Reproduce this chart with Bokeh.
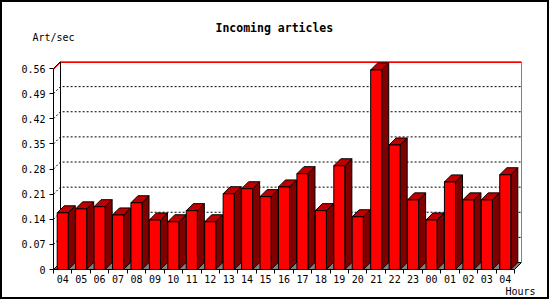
from bokeh.plotting import figure
from bokeh.models import FixedTicker, NumeralTickFormatter, Title, Range1d, LinearAxis
from bokeh.embed import file_html
from bokeh.resources import INLINE

# ---- data ----
hours = ["04", "05", "06", "07", "08", "09", "10", "11", "12", "13", "14", "15", "16",
         "17", "18", "19", "20", "21", "22", "23", "00", "01", "02", "03", "04"]
art_per_sec = [0.158, 0.169, 0.175, 0.152, 0.186, 0.138, 0.133, 0.164, 0.133, 0.211,
               0.225, 0.203, 0.230, 0.267, 0.164, 0.289, 0.147, 0.556, 0.347, 0.194,
               0.138, 0.244, 0.194, 0.194, 0.264]
y_ticks = [0, 0.07, 0.14, 0.21, 0.28, 0.35, 0.42, 0.49, 0.56]
title_text = "Incoming articles"
y_label = "Art/sec"
x_label = "Hours"

# ---- geometry (pixels) ----
BORDER = 2
W, H = 549, 299
FRAME_L, FRAME_T = 53 - BORDER, 61 - BORDER
FRAME_W, FRAME_H = 468, 208
DEPTH_PX = 7
N = len(art_per_sec)
YMAX = y_ticks[-1]
slot_px = (FRAME_W - DEPTH_PX) / N
DX = DEPTH_PX / slot_px
unit_px = (FRAME_H - DEPTH_PX) / YMAX
DY = DEPTH_PX / unit_px
ONE_PX = 1 / unit_px

FONT = "DejaVu Sans Mono"

p = figure(width=W, height=H, output_backend="svg", toolbar_location=None, title=None,
           x_range=Range1d(0, N + DX), y_range=Range1d(0, YMAX + DY),
           min_border_left=FRAME_L, min_border_top=FRAME_T,
           min_border_right=W - FRAME_L - FRAME_W,
           min_border_bottom=H - FRAME_T - FRAME_H)
p.styles = {"border": f"{BORDER}px solid black"}
p.outline_line_color = None
p.xgrid.grid_line_color = None
p.ygrid.grid_line_color = None
p.background_fill_color = "white"
p.border_fill_color = "white"

# axes
xa = p.xaxis[0]
xa.ticker = FixedTicker(ticks=[i + 0.5 for i in range(N)], minor_ticks=list(range(N + 1)))
xa.major_label_overrides = {i + 0.5: h for i, h in enumerate(hours)}
xa.bounds = (0, N)
xa.major_tick_out = 4
xa.major_tick_in = 0
xa.major_tick_line_color = None
xa.minor_tick_out = 4
xa.minor_tick_in = 0
xa.minor_tick_line_color = "black"
xa.major_label_standoff = 1
xa.axis_line_color = "black"

ya = p.yaxis[0]
ya.ticker = FixedTicker(ticks=y_ticks, minor_ticks=[])
ya.formatter = NumeralTickFormatter(format="0.[00]")
ya.bounds = (0, YMAX)
ya.major_tick_out = 4
ya.major_tick_in = 0
ya.major_label_standoff = 4
ya.axis_line_color = "black"
ya.major_tick_line_color = "black"

for ax in (xa, ya):
    ax.major_label_text_font = FONT
    ax.major_label_text_font_size = "10px"
    ax.major_label_text_color = "black"

# top axis whose only tick label is the unit "Art/sec" (at the y axis' corner)
top_ax = LinearAxis(ticker=FixedTicker(ticks=[0], minor_ticks=[]))
top_ax.major_label_overrides = {0: y_label}
top_ax.axis_line_color = None
top_ax.major_tick_line_color = None
top_ax.minor_tick_line_color = None
top_ax.major_tick_out = 0
top_ax.major_tick_in = 0
top_ax.major_label_standoff = 19
top_ax.major_label_text_font = FONT
top_ax.major_label_text_font_size = "10px"
top_ax.major_label_text_color = "black"
p.add_layout(top_ax, "above")

# chart title (outermost above panel)
p.add_layout(Title(text=title_text, align="left", offset=215 - 53, standoff=-12,
                   text_font=FONT, text_font_size="11.5px", text_font_style="bold",
                   text_color="black"), "above")

# back plane gridlines (dotted), with diagonal from the front axis
grid_levels = y_ticks[1:-1]
p.multi_line(xs=[[0, DX, N + DX] for _ in grid_levels],
             ys=[[v, v + DY, v + DY] for v in grid_levels],
             line_color="black", line_dash="2 2", line_width=1)

# red top line
p.line(x=[0, DX, N + DX], y=[YMAX - ONE_PX, YMAX + DY - ONE_PX, YMAX + DY - ONE_PX],
       line_color="red", line_width=1)

# back plane outline
p.line(x=[0, DX, N + DX, N + DX], y=[YMAX, YMAX + DY, YMAX + DY, DY],
       line_color="black", line_width=1)
p.line(x=[DX, DX], y=[DY, YMAX + DY], line_color="black", line_width=1)

# floor
p.patch(x=[0, DX, N + DX, N], y=[0, DY, DY, 0], fill_color="#808080",
        line_color="black", line_width=1)

# bars
L, R = 0.2, 0.8
side_xs, side_ys, top_xs, top_ys = [], [], [], []
for i, v in enumerate(art_per_sec):
    side_xs.append([i + R, i + R + DX, i + R + DX, i + R])
    side_ys.append([0, DY, v + DY, v])
    top_xs.append([i + L, i + L + DX, i + R + DX, i + R])
    top_ys.append([v, v + DY, v + DY, v])
p.patches(side_xs, side_ys, fill_color="#800000", line_color="black", line_width=1)
p.patches(top_xs, top_ys, fill_color="#C00000", line_color="black", line_width=1)
p.quad(left=[i + L for i in range(N)], right=[i + R for i in range(N)],
       bottom=0, top=art_per_sec, fill_color="#FF0000", line_color="black", line_width=1)

# x unit label under the axis, at the right
p.add_layout(Title(text=x_label, align="left", offset=505 - 53, standoff=0,
                   vertical_align="top",
                   text_font=FONT, text_font_size="10px", text_font_style="normal",
                   text_color="black"), "below")

open("out.html", "w").write(file_html(p, INLINE))
